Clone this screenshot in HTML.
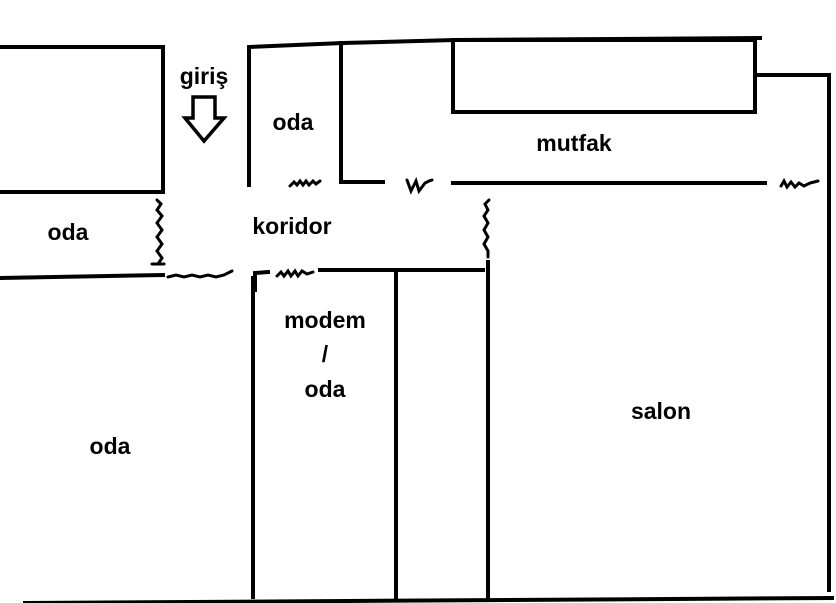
<!DOCTYPE html>
<html><head><meta charset="utf-8"><style>
html,body{margin:0;padding:0;background:#fff;}
svg{display:block}
text{font-family:"Liberation Sans",sans-serif;font-weight:bold;font-size:23px;fill:#000;text-anchor:middle}
</style></head><body>
<svg width="836" height="603" viewBox="0 0 836 603" xmlns="http://www.w3.org/2000/svg">
<g stroke="#000" stroke-width="4" fill="none" stroke-linecap="square">
<polyline points="0,47 163,47 163,192 0,192"/>
<line x1="0" y1="278" x2="163" y2="275"/>
<polyline points="249,185 249,47 343,43 455,40 760,38"/>
<polyline points="341,43 341,182 383,182"/>
<rect x="453" y="40" width="302" height="72"/>
<polyline points="755,112 755,75 829,75 829,590"/>
<line x1="453" y1="183" x2="765" y2="183"/>
<polyline points="255,290 255,273 268,272"/>
<line x1="320" y1="270" x2="483" y2="270"/>
<line x1="253" y1="278" x2="253" y2="597"/>
<line x1="396" y1="272" x2="396" y2="600"/>
<line x1="488" y1="262" x2="488" y2="600"/>
<line x1="25" y1="603" x2="832" y2="598"/>
<path d="M193,97 H215 V118 H224 L204,141 L185,118 H193 Z" stroke-width="3.5" stroke-linejoin="miter"/>
</g>
<g stroke="#000" stroke-width="3" fill="none" stroke-linecap="round">
<path d="M157,200 l4,4 -4,6 5,6 -5,7 5,7 -5,7 5,7 -5,7 5,7 -4,6 M152,264 h12"/>
<path d="M168,277 l8,-2 8,2 8,-2 8,2 8,-2 8,2 8,-2 8,-4"/>
<path d="M290,186 l4,-4 3,3 3,-4 3,4 3,-4 3,4 4,-4 3,3 4,-3"/>
<path d="M277,276 l4,-4 3,4 4,-5 3,5 4,-5 3,5 4,-5 5,3 6,-2"/>
<path d="M407,180 l4,11 5,-10 3,10 6,-8 4,-2 3,-1"/>
<path d="M781,186 l3,-5 3,6 4,-5 4,5 4,-4 5,3 6,-3 8,-2"/>
<path d="M489,200 l-4,4 3,6 -4,6 4,7 -4,7 4,7 -4,7 4,7 0,6"/>
</g>
<text x="204" y="84">giriş</text>
<text x="293" y="130">oda</text>
<text x="68" y="240">oda</text>
<text x="292" y="234">koridor</text>
<text x="574" y="151">mutfak</text>
<text x="325" y="328">modem</text>
<text x="325" y="362">/</text>
<text x="325" y="397">oda</text>
<text x="110" y="454">oda</text>
<text x="661" y="419">salon</text>
</svg>
</body></html>
